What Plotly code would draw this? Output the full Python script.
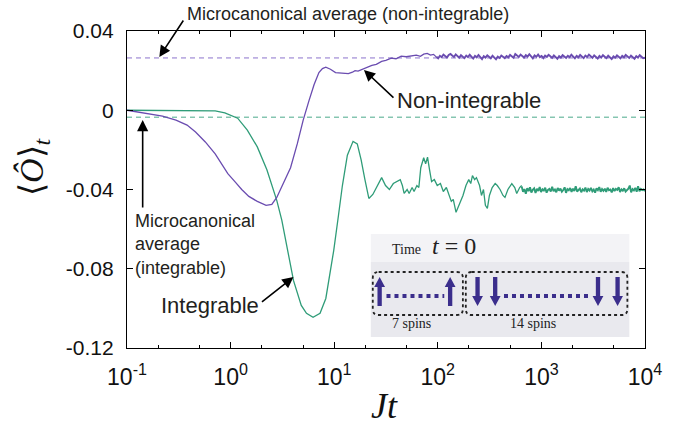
import numpy as np
import plotly.graph_objects as go

# ---------------- data ----------------
integrable_t = [0.1, 0.2, 0.3, 0.45, 0.6, 0.71, 0.88, 1.17, 1.45, 1.81, 2.24, 2.79, 3.12, 3.47, 4.05,
                4.81, 5.4, 6.25, 7.3, 8.3, 8.85, 9.9, 11.0, 12.0, 13.4, 15.2, 16.7, 18.2, 19.8, 21.6,
                23.6, 26.3, 28.7, 31.3, 34.1, 37.2, 40.7, 43.4, 45.5, 47.3, 50.6, 52.9, 56.5, 59.0,
                62.8, 65.6, 68.5, 73.1, 76.3, 79.6, 83.2, 87.1, 92.6, 98.8, 106, 113, 121, 129, 135,
                141, 150, 160, 175, 187, 199, 208, 216, 227, 236, 253, 264, 276, 288, 301, 315, 335,
                358, 375, 399, 426, 445, 475, 518, 553, 578, 617, 645]
integrable_val = [0.0, 0.0, 0.0, -0.0001, -0.0002, -0.0003, -0.0013, -0.0040, -0.0100, -0.0185, -0.0300,
                  -0.0455, -0.0555, -0.0680, -0.0860, -0.0985, -0.1025, -0.1045, -0.1025, -0.0950, -0.0860,
                  -0.0707, -0.0530, -0.0380, -0.0227, -0.0157, -0.0170, -0.0250, -0.0350, -0.0445,
                  -0.0425, -0.0380, -0.0340, -0.0380, -0.0400, -0.0370, -0.0360, -0.0350, -0.0380,
                  -0.0420, -0.0400, -0.0420, -0.0390, -0.0410, -0.0380, -0.0390, -0.0290, -0.0240,
                  -0.0270, -0.0237, -0.0300, -0.0360, -0.0350, -0.0380, -0.0370, -0.0410, -0.0390,
                  -0.0430, -0.0460, -0.0450, -0.0515, -0.0480, -0.0430, -0.0380, -0.0350, -0.0370,
                  -0.0330, -0.0350, -0.0340, -0.0380, -0.0430, -0.0400, -0.0480, -0.0495, -0.0430,
                  -0.0390, -0.0370, -0.0380, -0.0400, -0.0430, -0.0440, -0.0400, -0.0370, -0.0390,
                  -0.0420, -0.0390, -0.0380]
# long-time fluctuating tail of the integrable curve (Jt from 660 to 10^4)
integrable_tail = [-0.0385, -0.0412, -0.0398, -0.0421, -0.0393, -0.0408, -0.0389, -0.0415, -0.0401, -0.0394,
                   -0.0418, -0.0396, -0.0407, -0.0388, -0.0413, -0.0399, -0.0405, -0.0391, -0.0416, -0.0402,
                   -0.0397, -0.0410, -0.0386, -0.0409, -0.0400, -0.0414, -0.0392, -0.0406, -0.0395, -0.0411,
                   -0.0403, -0.0389, -0.0417, -0.0398, -0.0404, -0.0393, -0.0412, -0.0396, -0.0408, -0.0384,
                   -0.0410, -0.0401, -0.0395, -0.0414, -0.0399, -0.0406, -0.0390, -0.0413, -0.0397, -0.0405,
                   -0.0392, -0.0409, -0.0400, -0.0416, -0.0394, -0.0403, -0.0388, -0.0411, -0.0398, -0.0407,
                   -0.0396, -0.0412, -0.0391, -0.0404, -0.0400, -0.0415, -0.0393, -0.0408, -0.0397, -0.0402,
                   -0.0389, -0.0413, -0.0399, -0.0406, -0.0394, -0.0410, -0.0401, -0.0396, -0.0380, -0.0414,
                   -0.0398, -0.0405, -0.0392, -0.0411, -0.0383, -0.0409, -0.0397, -0.0403, -0.0400, -0.0408]
integrable_tail_t = np.logspace(np.log10(645), 4, len(integrable_tail))

nonint_t = [0.1, 0.155, 0.22, 0.297, 0.38, 0.459, 0.57, 0.71, 0.82, 0.94, 1.1, 1.28, 1.5, 1.81, 2.2, 2.5,
            2.79, 3.2, 3.79, 4.4, 5.02, 5.72, 6.4, 7.12, 7.7, 8.3, 9.2, 10.3, 12.0, 13.7, 15.0, 15.9, 17.0,
            18.5, 20.5, 23.1, 25.5, 28.7, 31.5, 35.6, 39.5, 44.3, 49.5, 55.1, 62, 68, 73.1, 79, 85.1, 91, 97]
nonint_val = [0.0, -0.0017, -0.0030, -0.0050, -0.0075, -0.0110, -0.0160, -0.0220, -0.0270, -0.0320, -0.0360,
              -0.0400, -0.0435, -0.0460, -0.0480, -0.0475, -0.0440, -0.0370, -0.0290, -0.0170, -0.0050,
              0.0050, 0.0130, 0.0190, 0.0210, 0.0217, 0.0207, 0.0190, 0.0187, 0.0185, 0.0192, 0.0200,
              0.0198, 0.0207, 0.0215, 0.0227, 0.0232, 0.0247, 0.0252, 0.0263, 0.0260, 0.0273, 0.0270,
              0.0273, 0.0278, 0.0272, 0.0283, 0.0287, 0.0278, 0.0282, 0.0268]
# long-time fluctuating tail of the non-integrable curve (Jt from 97 to 10^4)
nonint_tail = [0.0270, 0.0262, 0.0275, 0.0268, 0.0281, 0.0273, 0.0266, 0.0279, 0.0284, 0.0276,
               0.0269, 0.0282, 0.0274, 0.0265, 0.0278, 0.0271, 0.0263, 0.0276, 0.0268, 0.0280,
               0.0272, 0.0261, 0.0274, 0.0267, 0.0279, 0.0270, 0.0258, 0.0273, 0.0266, 0.0277,
               0.0269, 0.0262, 0.0275, 0.0268, 0.0257, 0.0271, 0.0264, 0.0276, 0.0270, 0.0263,
               0.0274, 0.0267, 0.0279, 0.0272, 0.0265, 0.0284, 0.0276, 0.0269, 0.0281, 0.0273,
               0.0266, 0.0278, 0.0271, 0.0283, 0.0275, 0.0262, 0.0277, 0.0270, 0.0281, 0.0268,
               0.0274, 0.0263, 0.0276, 0.0269, 0.0280, 0.0272, 0.0265, 0.0277, 0.0270, 0.0260,
               0.0273, 0.0266, 0.0278, 0.0271, 0.0264, 0.0275, 0.0268, 0.0280, 0.0272, 0.0262,
               0.0274, 0.0267, 0.0279, 0.0270, 0.0263, 0.0276, 0.0269, 0.0281, 0.0273, 0.0265,
               0.0277, 0.0268, 0.0261, 0.0274, 0.0266, 0.0278, 0.0271, 0.0263, 0.0275, 0.0268,
               0.0259, 0.0272, 0.0265, 0.0277, 0.0270, 0.0262, 0.0274, 0.0267, 0.0279, 0.0271,
               0.0264, 0.0276, 0.0268, 0.0260, 0.0273, 0.0266, 0.0278, 0.0270, 0.0263, 0.0265]
nonint_tail_t = np.logspace(np.log10(97), 4, len(nonint_tail))

micro_nonint = 0.0264
micro_int = -0.0035

y_ticks = [0.04, 0.0, -0.04, -0.08, -0.12]
y_ticktext = ["0.04", "0", "-0.04", "-0.08", "-0.12"]
x_ticks = [0.1, 1, 10, 100, 1000, 10000]
x_ticktext = ["10<sup>-1</sup>", "10<sup>0</sup>", "10<sup>1</sup>", "10<sup>2</sup>",
              "10<sup>3</sup>", "10<sup>4</sup>"]

# ---------------- styling ----------------
W, H = 674, 428
ML, MR, MT, MB = 127, 18, 31, 80
PW, PH = W - ML - MR, H - MT - MB
PURPLE = "#6a4cb0"
GREEN = "#2f9c78"
INK = "#231f20"
NAVY = "#3b2e8c"
FONT = "Liberation Sans, Arial, sans-serif"
SERIF = "Liberation Serif"


def px(x):
    return (x - ML) / PW


def py(y):
    return (H - MB - y) / PH


fig = go.Figure()
fig.add_trace(go.Scatter(x=integrable_t, y=integrable_val,
                         mode="lines", line=dict(color=GREEN, width=1.3), showlegend=False))
fig.add_trace(go.Scatter(x=integrable_tail_t, y=integrable_tail,
                         mode="lines", line=dict(color=GREEN, width=1.9), showlegend=False))
fig.add_trace(go.Scatter(x=nonint_t, y=nonint_val,
                         mode="lines", line=dict(color=PURPLE, width=1.3), showlegend=False))
fig.add_trace(go.Scatter(x=nonint_tail_t, y=nonint_tail,
                         mode="lines", line=dict(color=PURPLE, width=1.9), showlegend=False))

shapes = []
# microcanonical averages
shapes.append(dict(type="line", xref="paper", yref="y", x0=0, x1=1, y0=micro_nonint, y1=micro_nonint,
                   line=dict(color="#8c72cc", width=1, dash="5px,4px"), layer="below"))
shapes.append(dict(type="line", xref="paper", yref="y", x0=0, x1=1, y0=micro_int, y1=micro_int,
                   line=dict(color="#4aa98a", width=1, dash="5px,4px"), layer="below"))

# ---- inset: initial spin configuration ----
shapes.append(dict(type="rect", xref="paper", yref="paper", x0=px(376), x1=px(640), y0=py(337), y1=py(262),
                   fillcolor="#e9e9ee", line=dict(width=0), layer="above"))
shapes.append(dict(type="rect", xref="paper", yref="paper", x0=px(376), x1=px(640), y0=py(262), y1=py(234),
                   fillcolor="#f3f3f6", line=dict(width=0), layer="above"))


def rounded_box(x0, y0, x1, y1, r=6):
    X0, X1, Y0, Y1 = px(x0), px(x1), py(y0), py(y1)
    rx, ry = r / PW, r / PH
    return (f"M {X0+rx},{Y0} L {X1-rx},{Y0} Q {X1},{Y0} {X1},{Y0-ry} L {X1},{Y1+ry} "
            f"Q {X1},{Y1} {X1-rx},{Y1} L {X0+rx},{Y1} Q {X0},{Y1} {X0},{Y1+ry} "
            f"L {X0},{Y0-ry} Q {X0},{Y0} {X0+rx},{Y0} Z")


for (a, b) in [(378, 470), (473, 638)]:
    shapes.append(dict(type="path", xref="paper", yref="paper", path=rounded_box(a, 272, b, 315),
                       line=dict(color="#222", width=1.8, dash="dot"), layer="above"))


def spin_arrow(cx, up=True):
    top, bot = 277, 306
    sw, hw, hl = 2.2, 5.5, 10
    if up:
        pts = [(cx - sw, bot), (cx - sw, top + hl), (cx - hw, top + hl), (cx, top), (cx + hw, top + hl),
               (cx + sw, top + hl), (cx + sw, bot)]
    else:
        pts = [(cx - sw, top), (cx - sw, bot - hl), (cx - hw, bot - hl), (cx, bot), (cx + hw, bot - hl),
               (cx + sw, bot - hl), (cx + sw, top)]
    p = "M " + " L ".join(f"{px(x)},{py(y)}" for x, y in pts) + " Z"
    return dict(type="path", xref="paper", yref="paper", path=p, fillcolor=NAVY,
                line=dict(width=0), layer="above")


for cx in [385, 457]:
    shapes.append(spin_arrow(cx, True))
for cx in [485, 503, 608, 628]:
    shapes.append(spin_arrow(cx, False))
for (a, b) in [(392, 451), (512, 598)]:
    shapes.append(dict(type="line", xref="paper", yref="paper", x0=px(a), x1=px(b), y0=py(296), y1=py(296),
                       line=dict(color=NAVY, width=4, dash="dot"), layer="above"))

annotations = []


def arrow(tip, tail):
    annotations.append(dict(xref="paper", yref="paper", x=px(tip[0]), y=py(tip[1]),
                            ax=tail[0] - tip[0], ay=tail[1] - tip[1], text="", showarrow=True,
                            arrowhead=2, arrowsize=1.4, arrowwidth=1.6, arrowcolor="#000", standoff=0))


arrow((160, 57), (185, 19))
arrow((369, 70), (400, 99))
arrow((143, 120), (143, 209))
arrow((297, 277), (264, 303))


def label(x, y, text, size, xanchor="left", yanchor="middle", font=FONT, align="left", color=INK):
    annotations.append(dict(xref="paper", yref="paper", x=px(x), y=py(y), text=text, showarrow=False,
                            xanchor=xanchor, yanchor=yanchor, align=align,
                            font=dict(family=font, size=size, color=color)))


label(186, 14, "Microcanonical average (non-integrable)", 18)
label(401, 101, "Non-integrable", 22)
label(133, 244, "Microcanonical<br>average<br>(integrable)", 18)
label(264, 305, "Integrable", 22, xanchor="right")
label(396, 250, "Time", 14, font=SERIF, color="#222")
label(436, 246, "<i>t</i> = 0", 24, font=SERIF, color="#222")
label(418, 323, "7 spins", 14, xanchor="center", font=SERIF, color="#222")
label(542, 323, "14 spins", 14, xanchor="center", font=SERIF, color="#222")
# axis titles
label(390, 406, "<i>Jt</i>", 36, xanchor="center", font=SERIF, color="#111")
annotations.append(dict(xref="paper", yref="paper", x=px(32), y=py(166),
                        text="\u27e8<i>\u00d4</i>\u27e9<sub><i>t</i></sub>", showarrow=False,
                        textangle=-90, xanchor="center", yanchor="middle",
                        font=dict(family=SERIF, size=34, color="#111")))

fig.update_layout(
    width=W, height=H, margin=dict(l=ML, r=MR, t=MT, b=MB),
    paper_bgcolor="white", plot_bgcolor="white",
    shapes=shapes, annotations=annotations,
    xaxis=dict(type="log", range=[-1, 4], tickvals=x_ticks, ticktext=x_ticktext,
               ticks="inside", ticklen=6, tickcolor="#000", showline=True, linecolor="#000",
               linewidth=1.2, mirror="ticks", showgrid=False, zeroline=False,
               ticklabelstandoff=8,
               tickfont=dict(family=FONT, size=23, color="#111"),
               minor=dict(ticks="inside", ticklen=3, tickcolor="#000", showgrid=False)),
    yaxis=dict(range=[-0.12, 0.04], tickvals=y_ticks, ticktext=y_ticktext,
               ticks="inside", ticklen=6, tickcolor="#000", showline=True, linecolor="#000",
               linewidth=1.2, mirror="ticks", showgrid=False, zeroline=False,
               ticklabelstandoff=8,
               tickfont=dict(family=FONT, size=21, color="#111")),
)

fig.write_html("out.html")
